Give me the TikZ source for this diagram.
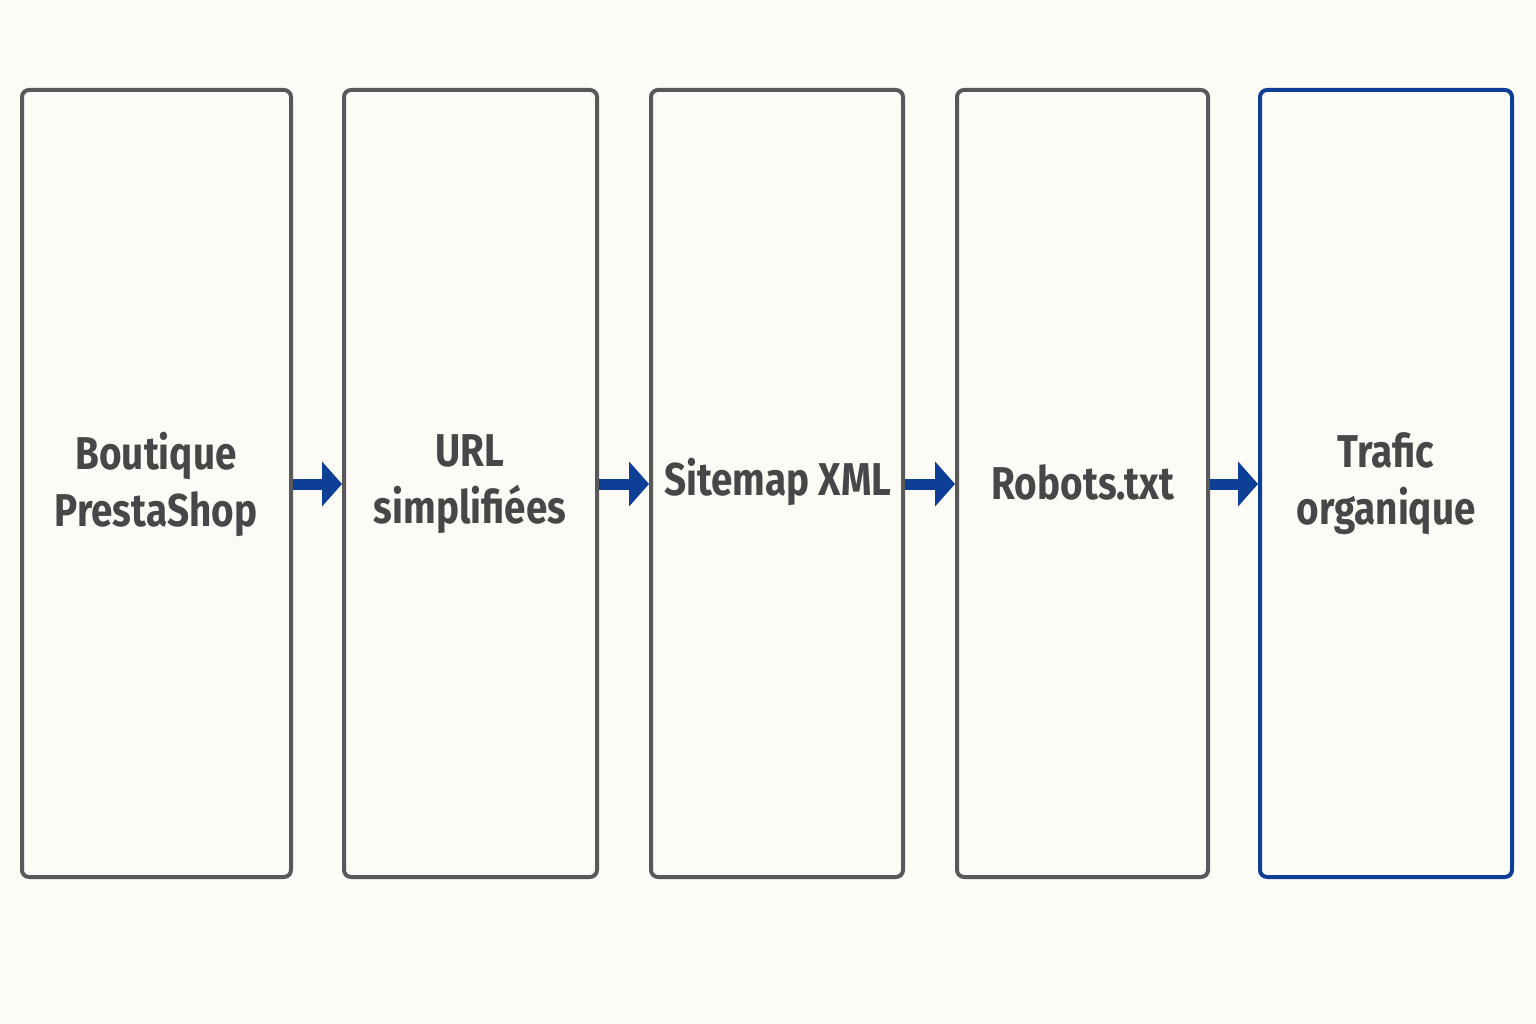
\documentclass[tikz,border=0pt]{standalone}
\usepackage{fontspec}
\setmainfont{Fira Sans}[FakeStretch=0.84]
\usetikzlibrary{arrows.meta}
\definecolor{bg}{HTML}{FCFBF6}
\definecolor{bd}{HTML}{595959}
\definecolor{bl}{HTML}{0D3F96}
\definecolor{tx}{HTML}{474747}
\begin{document}
\begin{tikzpicture}[x=1pt,y=-1pt,
  box/.style={draw=bd,line width=4pt,rounded corners=7pt,fill=bg},
  lbl/.style={text=tx,font=\fontsize{46}{57}\selectfont\bfseries,align=center},
  arr/.style={draw=bl,line width=11pt,-{Triangle[length=20pt,width=44pt]}}]
\fill[bg] (0,0) rectangle (1536,1024);
\useasboundingbox (0,0) rectangle (1536,1024);
\draw[box] (22,90) rectangle (291,877);
\draw[box] (344,90) rectangle (597,877);
\draw[box] (651,90) rectangle (903,877);
\draw[box] (957,90) rectangle (1208,877);
\draw[box,draw=bl] (1260,90) rectangle (1512,877);
\node[lbl] (a) at (156,484) {Boutique\\PrestaShop};
\node[lbl] (b) at (470,484) {URL\\simplifiées};
\node[lbl] (c) at (778,482) {Sitemap XML};
\node[lbl] (d) at (1083,482) {Robots.txt};
\node[lbl] (e) at (1386,484) {Trafic\\organique};
\coordinate (a1) at (293,484); \coordinate (a2) at (342,484);
\coordinate (b1) at (599,484); \coordinate (b2) at (649,484);
\coordinate (c1) at (905,484); \coordinate (c2) at (955,484);
\coordinate (d1) at (1210,484); \coordinate (d2) at (1258,484);
\draw[arr] (a1) -- (a2);
\draw[arr] (b1) -- (b2);
\draw[arr] (c1) -- (c2);
\draw[arr] (d1) -- (d2);
\end{tikzpicture}
\end{document}
